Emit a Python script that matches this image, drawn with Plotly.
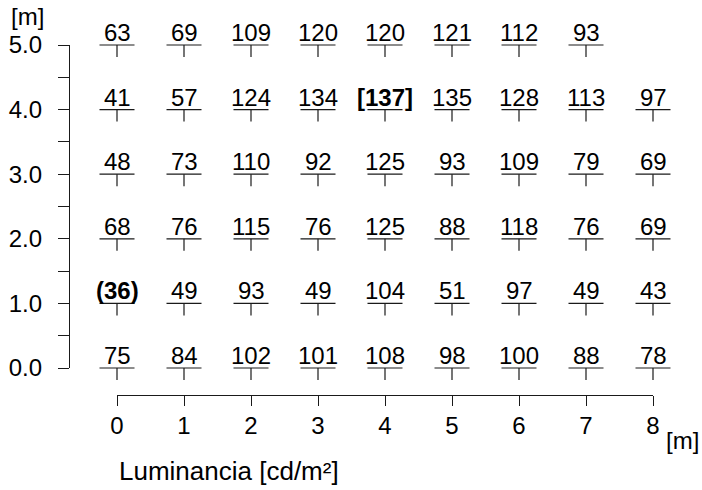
import plotly.graph_objects as go

# ---- data ----
x_positions = [0, 1, 2, 3, 4, 5, 6, 7, 8]
y_positions = [5, 4, 3, 2, 1, 0]
row_5 = ["63", "69", "109", "120", "120", "121", "112", "93"]
row_4 = ["41", "57", "124", "134", "<b>[137]</b>", "135", "128", "113", "97"]
row_3 = ["48", "73", "110", "92", "125", "93", "109", "79", "69"]
row_2 = ["68", "76", "115", "76", "125", "88", "118", "76", "69"]
row_1 = ["<b>(36)</b>", "49", "93", "49", "104", "51", "97", "49", "43"]
row_0 = ["75", "84", "102", "101", "108", "98", "100", "88", "78"]
rows = [row_5, row_4, row_3, row_2, row_1, row_0]
x_ticks = [0, 1, 2, 3, 4, 5, 6, 7, 8]
y_ticks = [0, 1, 2, 3, 4, 5]

W, H = 702, 490
FONT = "Liberation Sans, Arial, sans-serif"
FS = 24
INK = "#1a1a1a"

# pixel layout constants
X0, X8 = 117, 653      # x=0 and x=8
Y0, Y5 = 368, 45       # y=0 and y=5
YAX_X = 69             # y-axis line x
XAX_Y = 395            # x-axis line y
sx = (X8 - X0) / 8.0
sy = (Y0 - Y5) / 5.0

xs, ys, texts = [], [], []
for yv, row in zip(y_positions, rows):
    for i, t in enumerate(row):
        xs.append(x_positions[i])
        ys.append(yv)
        texts.append(t)

fig = go.Figure()

# points: horizontal bar + small downward tick
fig.add_trace(go.Scatter(
    x=xs, y=ys, mode="markers", xaxis="x2", yaxis="y2",
    marker=dict(symbol="line-ew", size=25, color=INK, line=dict(width=1.2, color=INK)),
    error_y=dict(type="data", symmetric=False, array=[0] * len(xs),
                 arrayminus=[12 / sy] * len(xs), width=0, thickness=1.2, color=INK),
    cliponaxis=False, showlegend=False, hoverinfo="skip",
))

# dummy trace for visible axes
fig.add_trace(go.Scatter(x=[None], y=[None], xaxis="x", yaxis="y", showlegend=False,
                         hoverinfo="skip"))

annotations = []
for x, y, t in zip(xs, ys, texts):
    annotations.append(dict(
        x=x, y=y, xref="x2", yref="y2", text=t, showarrow=False,
        xanchor="center", yanchor="bottom", yshift=-3,
        font=dict(family=FONT, size=FS, color="black"),
    ))

annotations += [
    dict(x=9 / W, y=1 - 17 / H, xref="paper", yref="paper", text="[m]", showarrow=False,
         xanchor="left", yanchor="middle", font=dict(family=FONT, size=FS, color="black")),
    dict(x=664 / W, y=1 - 440 / H, xref="paper", yref="paper", text="[m]",
         showarrow=False, xanchor="left", yanchor="middle",
         font=dict(family=FONT, size=FS, color="black")),
    dict(x=117 / W, y=1 - 471 / H, xref="paper", yref="paper",
         text="Luminancia [cd/m²]", showarrow=False, xanchor="left", yanchor="middle",
         font=dict(family=FONT, size=26, color="black")),
]

fig.update_layout(
    width=W, height=H,
    margin=dict(l=0, r=0, t=0, b=0, autoexpand=False),
    paper_bgcolor="white", plot_bgcolor="rgba(0,0,0,0)",
    font=dict(family=FONT, size=FS, color="black"),
    hovermode=False,
    xaxis=dict(
        domain=[X0 / W, X8 / W], range=[0, 8], anchor="free", position=1 - XAX_Y / H,
        showline=True, linecolor=INK, linewidth=1.2, ticks="outside", ticklen=10,
        tickwidth=1.2, tickcolor=INK, tickvals=x_ticks, ticktext=[str(v) for v in x_ticks],
        showgrid=False, zeroline=False, ticklabelstandoff=-1, automargin=False,
        tickfont=dict(family=FONT, size=FS, color="black"),
    ),
    yaxis=dict(
        domain=[1 - Y0 / H, 1 - Y5 / H], range=[0, 5], anchor="free", position=YAX_X / W,
        showline=True, linecolor=INK, linewidth=1.2, ticks="outside", ticklen=11,
        tickwidth=1.2, tickcolor=INK, tickvals=y_ticks,
        ticktext=[f"{v:.1f}" for v in y_ticks],
        minor=dict(tickvals=[0.5, 1.5, 2.5, 3.5, 4.5], ticks="outside", ticklen=11,
                   tickwidth=1.2, tickcolor=INK, showgrid=False),
        showgrid=False, zeroline=False, ticklabelstandoff=11, automargin=False,
        tickfont=dict(family=FONT, size=FS, color="black"),
    ),
    xaxis2=dict(domain=[0, 1], range=[(0 - X0) / sx, (W - X0) / sx], anchor="y2",
                visible=False, fixedrange=True, automargin=False),
    yaxis2=dict(domain=[0, 1], range=[-(H - Y0) / sy, Y0 / sy], anchor="x2",
                visible=False, fixedrange=True, automargin=False),
    annotations=annotations,
)

fig.write_html("out.html", config={"displayModeBar": False},
               post_script="document.body.style.margin='0px';document.body.style.overflow='hidden';")
